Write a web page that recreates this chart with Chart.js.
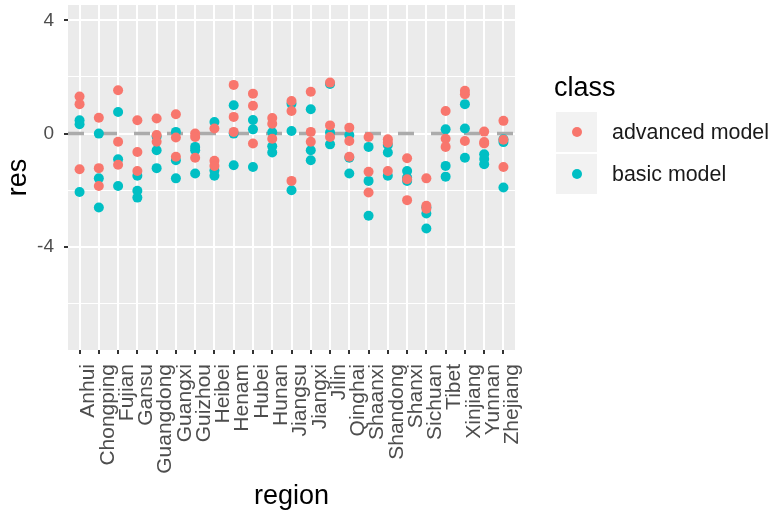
<!DOCTYPE html>
<html>
<head>
<meta charset="utf-8">
<script src="https://cdn.jsdelivr.net/npm/chart.js@4.4.1/dist/chart.umd.min.js"></script>
<style>
  html, body { margin: 0; padding: 0; background: #fff; }
  #wrap { position: relative; width: 774px; height: 516px; font-family: 'Liberation Sans', Arial, sans-serif; }
  #legend { position: absolute; left: 554px; top: 72px; }
  #legend .title { position: absolute; left: 0; top: 0; font-size: 27px; color: #000; white-space: nowrap; }
  #legend .key { position: absolute; left: 2px; width: 41px; height: 40px; background: #F2F2F2; }
  #legend .dot { position: absolute; left: 16px; top: 15px; width: 10px; height: 10px; border-radius: 50%; }
  #legend .lab { position: absolute; left: 58px; font-size: 21.4px; color: #1a1a1a; white-space: nowrap; line-height: 40px; }
</style>
</head>
<body>
<div id="wrap">
  <canvas id="chart" width="774" height="516"></canvas>
  <div id="legend">
    <div class="title">class</div>
    <div class="key" style="top:40px"><div class="dot" style="background:#F8766D"></div></div>
    <div class="lab" style="top:40px">advanced model</div>
    <div class="key" style="top:82px"><div class="dot" style="background:#00BFC4"></div></div>
    <div class="lab" style="top:82px">basic model</div>
  </div>
</div>
<script>
const regions = ['Anhui', 'Chongping', 'Fujian', 'Gansu', 'Guangdong', 'Guangxi', 'Guizhou',
  'Heibei', 'Henam', 'Hubei', 'Hunan', 'Jiangsu', 'Jiangxi', 'Jilin', 'Qinghai', 'Shaanxi',
  'Shandong', 'Shanxi', 'Sichuan', 'Tibet', 'Xinjiang', 'Yunnan', 'Zhejiang'];

// three residuals per region
const advancedRes = [
  [1.31, 1.04, -1.26], [0.56, -1.22, -1.85], [1.53, -0.29, -1.1], [0.47, -0.65, -1.32],
  [0.53, -0.05, -0.29], [0.68, -0.14, -0.82], [0.0, -0.12, -0.85], [0.18, -0.96, -1.14],
  [1.72, 0.59, 0.06], [1.41, 0.98, -0.35], [0.55, 0.35, -0.18], [1.15, 0.8, -1.67],
  [1.48, 0.06, -0.29], [1.8, 0.29, -0.12], [0.21, -0.26, -0.82], [-0.12, -1.35, -2.08],
  [-0.2, -0.32, -1.32], [-0.87, -1.61, -2.35], [-1.58, -2.55, -2.65], [0.8, -0.18, -0.47],
  [1.51, 1.39, -0.26], [0.07, -0.35, -0.3], [0.45, -0.22, -1.18]
];
const basicRes = [
  [0.47, 0.33, -2.06], [0.0, -1.58, -2.61], [0.76, -0.91, -1.85], [-1.49, -2.02, -2.26],
  [-0.1, -0.59, -1.22], [0.06, -0.94, -1.58], [-0.47, -0.59, -1.41], [0.41, -1.3, -1.49],
  [1.0, 0.0, -1.12], [0.48, 0.15, -1.18], [0.05, -0.45, -0.67], [1.05, 0.09, -2.0],
  [0.86, -0.59, -0.94], [1.75, 0.04, -0.38], [-0.05, -0.85, -1.41], [-0.47, -1.67, -2.9],
  [-0.4, -0.67, -1.49], [-1.32, -1.55, -1.67], [-2.6, -2.82, -3.35], [0.15, -1.14, -1.52],
  [1.04, 0.18, -0.85], [-0.73, -0.9, -1.08], [-0.2, -0.3, -1.9]
];
const yTicks = [-6, -4, -2, 0, 2, 4];
const yMajor = [-4, 0, 4];

const FONT = "'Liberation Sans', Arial, sans-serif";

const toPoints = (rows) => rows.flatMap((vals, i) => vals.map((v) => ({ x: i, y: v })));

// grey panel behind the grid, like ggplot's theme_grey
const panelBg = {
  id: 'panelBg',
  beforeDraw(chart) {
    const { ctx, chartArea: a } = chart;
    ctx.save();
    ctx.fillStyle = '#EBEBEB';
    ctx.fillRect(a.left, a.top, a.right - a.left, a.bottom - a.top);
    ctx.restore();
  },
};

new Chart(document.getElementById('chart').getContext('2d'), {
  type: 'scatter',
  data: {
    datasets: [
      {
        label: 'advanced model',
        data: toPoints(advancedRes),
        backgroundColor: '#F8766D',
        borderWidth: 0,
        pointRadius: 5,
        order: 0,
      },
      {
        label: 'basic model',
        data: toPoints(basicRes),
        backgroundColor: '#00BFC4',
        borderWidth: 0,
        pointRadius: 5,
        order: 1,
      },
      {
        type: 'line',
        label: 'zero',
        data: [{ x: -0.6, y: 0 }, { x: regions.length - 0.4, y: 0 }],
        borderColor: '#ABABAB',
        borderWidth: 3.5,
        borderDash: [16, 17],
        pointRadius: 0,
        order: 2,
      },
    ],
  },
  options: {
    responsive: false,
    animation: false,
    layout: { padding: { top: 4, right: 259, left: 0, bottom: 0 } },
    plugins: { legend: { display: false }, tooltip: { enabled: false } },
    scales: {
      x: {
        type: 'linear',
        min: -0.6,
        max: regions.length - 0.4,
        afterBuildTicks: (scale) => { scale.ticks = regions.map((_, i) => ({ value: i })); },
        afterFit: (scale) => {
          scale.height = 166;
          scale.paddingLeft = 0;
          scale.paddingRight = 0;
        },
        grid: { color: '#FFFFFF', lineWidth: 2, tickColor: '#333333', tickLength: 4 },
        border: { display: false },
        ticks: {
          autoSkip: false,
          minRotation: 90,
          maxRotation: 90,
          padding: 10,
          labelOffset: 9,
          color: '#4D4D4D',
          font: { family: FONT, size: 21 },
          callback: (v) => regions[v],
        },
        title: {
          display: true,
          text: 'region',
          color: '#000',
          font: { family: FONT, size: 27 },
          padding: { top: 0, bottom: 3 },
        },
      },
      y: {
        min: -7.64,
        max: 4.54,
        afterBuildTicks: (scale) => { scale.ticks = yTicks.map((v) => ({ value: v })); },
        afterFit: (scale) => {
          scale.width = 68;
          scale.paddingTop = 0;
          scale.paddingBottom = 0;
        },
        grid: {
          color: '#FFFFFF',
          lineWidth: (c) => (yMajor.includes(c.tick && c.tick.value) ? 2 : 1),
          tickColor: (c) => (yMajor.includes(c.tick && c.tick.value) ? '#333333' : 'rgba(0,0,0,0)'),
          tickLength: 4,
        },
        border: { display: false },
        ticks: {
          padding: 10,
          color: '#4D4D4D',
          font: { family: FONT, size: 19 },
          callback: (v) => (yMajor.includes(v) ? String(v) : ''),
        },
        title: {
          display: true,
          text: 'res',
          color: '#000',
          font: { family: FONT, size: 27 },
          padding: { top: 2, bottom: 0 },
        },
      },
    },
  },
  plugins: [panelBg],
});
</script>
</body>
</html>
